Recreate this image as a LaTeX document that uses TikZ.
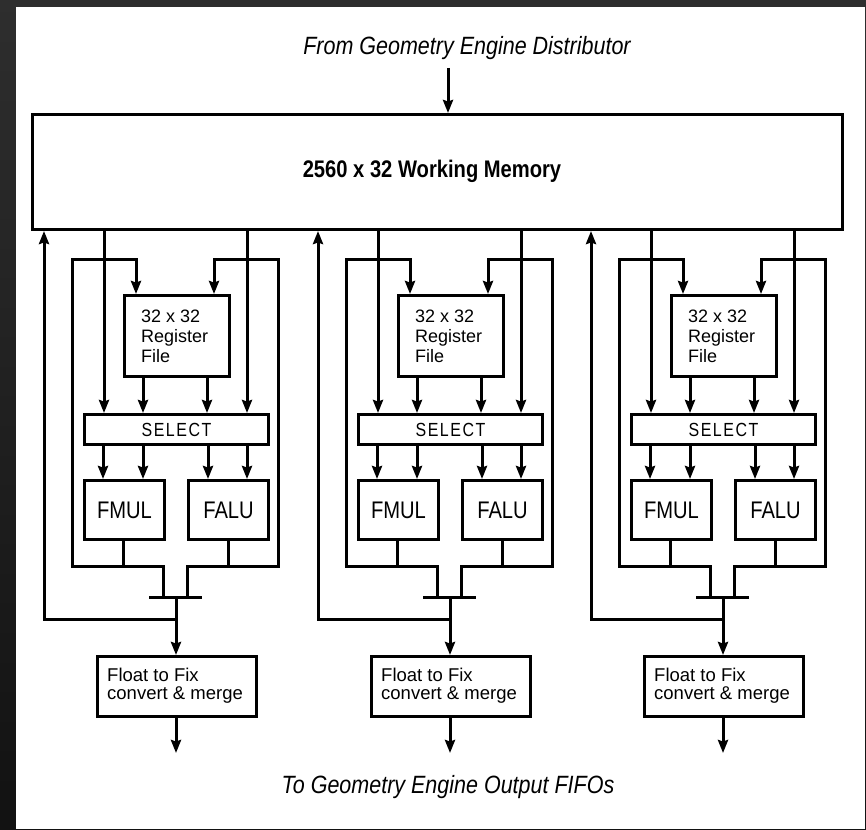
\documentclass[tikz,border=0pt]{standalone}
\usepackage{fontspec}
\setmainfont{Liberation Sans}
\newfontfamily\narrowfont[FakeStretch=0.84]{Liberation Sans}
\newfontfamily\labelfont[FakeStretch=0.86]{Liberation Sans}
\usetikzlibrary{arrows.meta}

\begin{document}
\begin{tikzpicture}[x=1pt,y=-1pt,
  wire/.style={line width=3pt,line join=miter},
  arr/.style={wire,-{Stealth[length=13pt,width=10pt,inset=1.5pt]}},
  blk/.style={draw,line width=3pt,fill=white,inner sep=0pt,anchor=north west},
  txt/.style={inner sep=0pt,text=black}
]
% frame
\useasboundingbox (0,0) rectangle (866,829);
\shade[top color=black!82,bottom color=black!93] (0,0) rectangle (866,829);
\fill[white] (16,7) rectangle (865,829);

% shared memory
\node[blk,minimum width=810pt,minimum height=115pt] (mem) at (31,113) {};
\node[txt,font=\narrowfont\bfseries\fontsize{24}{28}\selectfont] (memt) at (432,171) {2560 x 32 Working Memory};

% input and output labels
\node[txt,font=\labelfont\itshape\fontsize{25}{29}\selectfont] (src) at (467,48) {From Geometry Engine Distributor};
\node[txt,font=\labelfont\itshape\fontsize{25}{29}\selectfont] (dst) at (448,787) {To Geometry Engine Output FIFOs};
\coordinate (srcin) at (448,68);
\draw[arr] (srcin) -- (srcin |- mem.north);

% three identical arithmetic units
\foreach \i/\dx in {1/0,2/274,3/547}{
\begin{scope}[xshift=\dx pt]
  \node[blk,minimum width=105pt,minimum height=81pt] (reg\i) at (123,294) {};
  \node[txt,anchor=north west,align=left,font=\fontsize{18}{20}\selectfont] (regt\i) at (141,310) {32 x 32\\Register\\File};
  \node[blk,minimum width=184pt,minimum height=30pt] (sel\i) at (83,413) {};
  \node[txt,font=\narrowfont\fontsize{19}{22}\selectfont\addfontfeature{LetterSpace=8}] (selt\i) at (sel\i) {SELECT};
  \node[blk,minimum width=80pt,minimum height=59pt] (fmul\i) at (83,479) {};
  \node[txt,font=\narrowfont\fontsize{24}{28}\selectfont] (fmult\i) at (fmul\i) {FMUL};
  \node[blk,minimum width=80pt,minimum height=59pt] (falu\i) at (187,479) {};
  \node[txt,font=\narrowfont\fontsize{24}{28}\selectfont] (falut\i) at (falu\i) {FALU};
  \node[blk,minimum width=159pt,minimum height=60pt] (cvt\i) at (96,655) {};
  \node[txt,anchor=north west,align=left,font=\fontsize{18.5}{18}\selectfont] (cvtt\i) at (107,668) {Float to Fix\\convert \& merge};

  % memory buses into SELECT
  \draw[arr] (mem.south -| 104,0) -- (sel\i.north -| 104,0);
  \draw[arr] (mem.south -| 247,0) -- (sel\i.north -| 247,0);
  % register file into SELECT
  \draw[arr] (reg\i.south -| 143,0) -- (sel\i.north -| 143,0);
  \draw[arr] (reg\i.south -| 207,0) -- (sel\i.north -| 207,0);
  % SELECT into the units
  \draw[arr] (sel\i.south -| 103,0) -- (fmul\i.north -| 103,0);
  \draw[arr] (sel\i.south -| 143,0) -- (fmul\i.north -| 143,0);
  \draw[arr] (sel\i.south -| 208,0) -- (falu\i.north -| 208,0);
  \draw[arr] (sel\i.south -| 247,0) -- (falu\i.north -| 247,0);

  % result loops back to the register file
  \coordinate (jl\i) at (163,597);
  \coordinate (jr\i) at (187,597);
  \draw[arr] (jl\i) -- (163,566) -- (72,566) -- (72,259) -- (136,259) -- (reg\i.north -| 136,0);
  \draw[arr] (jr\i) -- (187,566) -- (278,566) -- (278,259) -- (214,259) -- (reg\i.north -| 214,0);
  \draw[wire] (fmul\i.south -| 123,0) -- (123,566);
  \draw[wire] (falu\i.south -| 228,0) -- (228,566);

  % merge bar and conversion
  \coordinate (tl\i) at (149,597);
  \coordinate (tr\i) at (202,597);
  \coordinate (tc\i) at (176,597);
  \draw[wire] (tl\i) -- (tr\i);
  \draw[arr] (tc\i) -- (cvt\i.north -| tc\i);
  \coordinate (fbj\i) at (176,619);
  \coordinate (fb\i) at (44,619);
  \draw[arr] (fbj\i) -- (fb\i) -- (fb\i |- mem.south);
  \coordinate (out\i) at (176,753);
  \draw[arr] (cvt\i.south -| out\i) -- (out\i);
\end{scope}
}
\end{tikzpicture}
\end{document}
